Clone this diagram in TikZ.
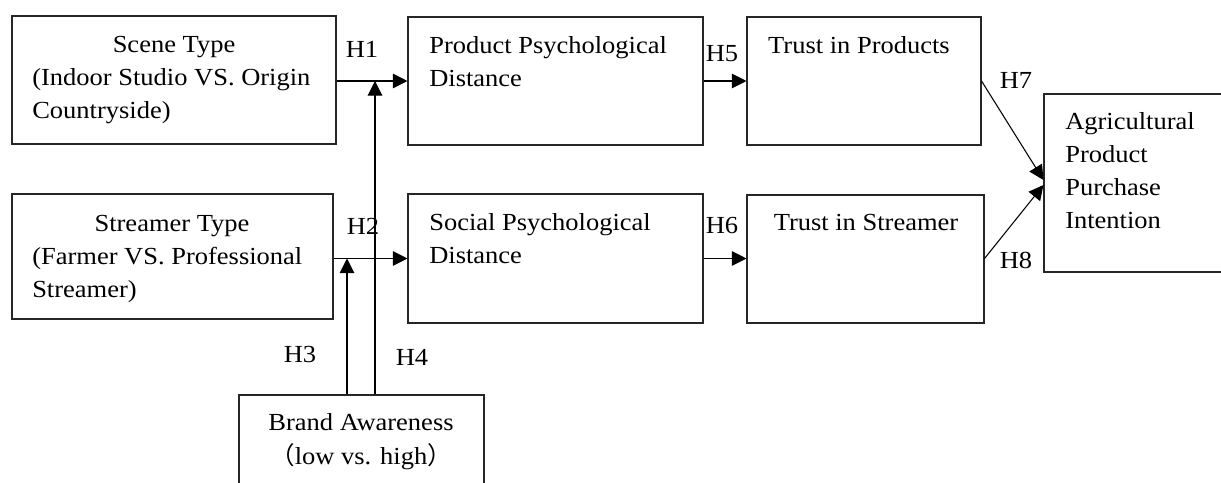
\documentclass[tikz,border=0pt]{standalone}
\usepackage{fontspec}
\setmainfont{Liberation Serif}[FakeStretch=1.08]
\newfontfamily\cjk{Noto Sans CJK SC}
\usetikzlibrary{arrows.meta,fit,calc}
\begin{document}
\begin{tikzpicture}[x=0.75pt,y=-0.75pt,
  box/.style={draw=black!85,line width=0.8pt,inner sep=0pt,fit={#1}},
  txt/.style={inner sep=0pt,font=\fontsize{18.4pt}{24.75pt}\selectfont},
  lab/.style={inner sep=0pt,font=\fontsize{18.4pt}{24.75pt}\selectfont},
  arr/.style={line width=0.8pt,-{Triangle[length=11pt,width=11pt]}},
  ln/.style={line width=0.8pt}]
\useasboundingbox (0,0) rectangle (1221,482);
\clip (0,0) rectangle (1221,482);
% boxes
\node[box={(12,16) (336,144)}] (scene) {};
\node[box={(12,194) (333,319)}] (streamer) {};
\node[box={(408,17) (703,145)}] (ppd) {};
\node[box={(408,194) (703,323)}] (spd) {};
\node[box={(747,17) (981,145)}] (tp) {};
\node[box={(747,195) (984,323)}] (ts) {};
\node[box={(1044,94) (1230,272)}] (pi) {};
\node[box={(239,395) (484,500)}] (brand) {};
% texts
\node[txt,anchor=base] (t1a) at (174,52) {Scene Type};
\node[txt,anchor=base west] (t1b) at (32,85) {(Indoor Studio VS. Origin};
\node[txt,anchor=base west] (t1c) at (32,118) {Countryside)};
\node[txt,anchor=base] (t2a) at (172,231) {Streamer Type};
\node[txt,anchor=base west] (t2b) at (32,264) {(Farmer VS. Professional};
\node[txt,anchor=base west] (t2c) at (32,297) {Streamer)};
\node[txt,anchor=base west] (t3a) at (429,53) {Product Psychological};
\node[txt,anchor=base west] (t3b) at (429,86) {Distance};
\node[txt,anchor=base west] (t4a) at (429,230) {Social Psychological};
\node[txt,anchor=base west] (t4b) at (429,263) {Distance};
\node[txt,anchor=base] (t5) at (859,53) {Trust in Products};
\node[txt,anchor=base] (t6) at (866,230) {Trust in Streamer};
\node[txt,anchor=base west] (t7a) at (1065,129) {Agricultural};
\node[txt,anchor=base west] (t7b) at (1065,162) {Product};
\node[txt,anchor=base west] (t7c) at (1065,195) {Purchase};
\node[txt,anchor=base west] (t7d) at (1065,228) {Intention};
\node[txt,anchor=base] (t8a) at (361,430) {Brand Awareness};
\node[txt,anchor=base west] (t8b) at (270,464) {{\cjk （}low vs. high{\cjk ）}};
% labels
\node[lab] (h1) at (362,49) {H1};
\node[lab] (h2) at (363,226) {H2};
\node[lab] (h3) at (300,354) {H3};
\node[lab] (h4) at (412,357) {H4};
\node[lab] (h5) at (722,54) {H5};
\node[lab] (h6) at (722,225) {H6};
\node[lab] (h7) at (1016,80) {H7};
\node[lab] (h8) at (1016,260) {H8};
% connectors
\draw[arr] (scene.east |- ppd.west) -- (ppd.west);
\draw[arr] (streamer.east |- spd.west) -- (spd.west);
\coordinate (m3) at (347,258.5);
\coordinate (m4) at (375,81);
\draw[arr] (brand.north -| m3) -- (m3);
\draw[arr] (brand.north -| m4) -- (m4);
\draw[arr] (ppd.east) -- (ppd.east -| tp.west);
\draw[arr] (spd.east) -- (spd.east -| ts.west);
\draw[arr] (tp.east) -- ($(pi.west)+(0,-3)$);
\draw[arr] (ts.east |- spd.east) -- ($(pi.west)+(0,2)$);
\end{tikzpicture}
\end{document}
